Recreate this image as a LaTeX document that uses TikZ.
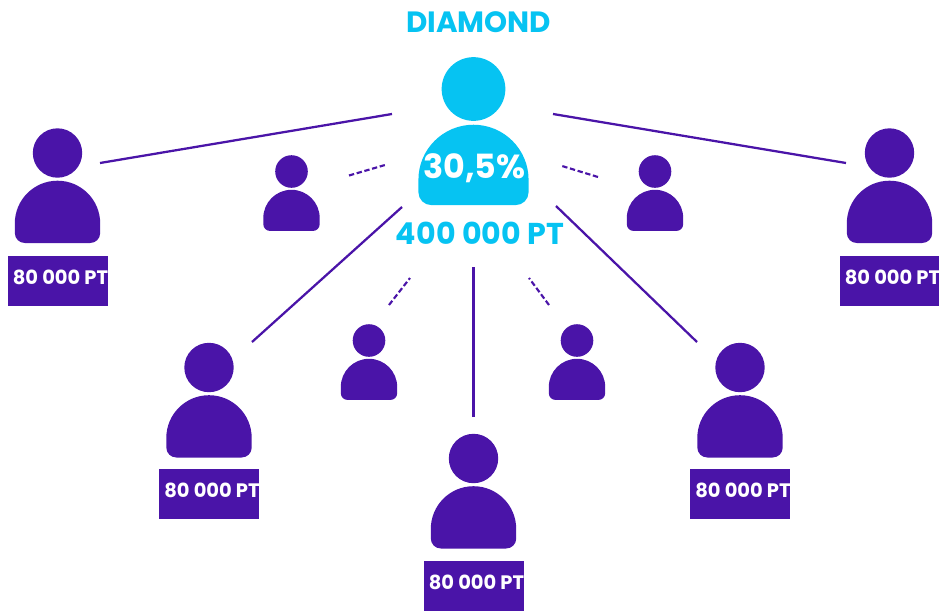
\documentclass[tikz,border=0pt]{standalone}
\usepackage{fontspec}
\setmainfont{Poppins}
\usetikzlibrary{positioning}
\definecolor{ink}{HTML}{4A14A8}
\definecolor{sky}{HTML}{06C3F2}
\tikzset{
  pics/person/.style={code={
    \fill (0,0) circle[radius=24.7];
    \fill (-42.7,-70.4) arc[start angle=180,end angle=0,radius=42.7] -- (42.7,-80)
      arc[start angle=0,end angle=-90,radius=10] -- (-32.7,-90)
      arc[start angle=270,end angle=180,radius=10] -- cycle;
  }},
  link/.style={draw=ink,line width=1.7pt},
  dashlink/.style={link,line width=1.6pt,dash pattern=on 4pt off 2pt},
  ptbox/.style={fill=ink,minimum width=75pt,minimum height=37.5pt,inner sep=0pt},
  pttext/.style={text=white,font=\bfseries\fontsize{14.6}{16}\selectfont,inner sep=0pt,anchor=west},
  skytext/.style={text=sky,font=\bfseries\fontsize{22}{26}\selectfont,inner sep=0pt}
}
\newcommand{\ptlabel}[3]{%
  \node[ptbox] (#1) at (#2,#3) {};
  \node[pttext,xshift=4pt,yshift=2.8pt] (#1text) at (#1.west) {80 000 PT};
}
\begin{document}
\begin{tikzpicture}[x=0.75pt,y=0.75pt]
  \useasboundingbox (0,-611) rectangle (939,0);

  % links
  \coordinate (la) at (100,-163);  \coordinate (lb) at (392,-114);
  \coordinate (ra) at (846,-163);  \coordinate (rb) at (553,-114);
  \coordinate (ca) at (252,-342);  \coordinate (cb) at (402,-207);
  \coordinate (da) at (697,-342);  \coordinate (db) at (556,-206);
  \coordinate (ea) at (473.5,-417);  \coordinate (eb) at (473.5,-267);
  \draw[link] (la) -- (lb);
  \draw[link] (ra) -- (rb);
  \draw[link] (ca) -- (cb);
  \draw[link] (da) -- (db);
  \draw[link] (ea) -- (eb);

  \coordinate (fa) at (349,-175.5);  \coordinate (fb) at (385,-165);
  \coordinate (ga) at (598,-177);  \coordinate (gb) at (562,-166);
  \coordinate (ha) at (389,-305);  \coordinate (hb) at (410,-278);
  \coordinate (ia) at (549,-305);  \coordinate (ib) at (529,-278);
  \draw[dashlink] (fa) -- (fb);
  \draw[dashlink] (ga) -- (gb);
  \draw[dashlink] (ha) -- (hb);
  \draw[dashlink] (ia) -- (ib);

  % people
  \pic[sky,scale=1.29] (top) at (473.5,-89) {person};
  \pic[ink] (pa) at (57.5,-153) {person};
  \pic[ink] (pb) at (209,-367.5) {person};
  \pic[ink] (pc) at (473.5,-458.5) {person};
  \pic[ink] (pd) at (740,-367.5) {person};
  \pic[ink] (pe) at (889.5,-153) {person};
  \pic[ink,scale=0.66] (sa) at (291.5,-171.5) {person};
  \pic[ink,scale=0.66] (sb) at (655,-171.5) {person};
  \pic[ink,scale=0.66] (sc) at (369,-340.5) {person};
  \pic[ink,scale=0.66] (sd) at (577,-340.5) {person};

  % texts
  \node[skytext] (title) at (478.5,-22) {DIAMOND};
  \node[skytext,font=\bfseries\fontsize{22.6}{26}\selectfont] (total) at (480,-233) {400 000 PT};
  \node[skytext,text=white,font=\bfseries\fontsize{25}{30}\selectfont] (share) at (474.5,-168) {30,5\%};

  \ptlabel{boxa}{57.5}{-280.7}
  \ptlabel{boxb}{209}{-494}
  \ptlabel{boxc}{473.5}{-586}
  \ptlabel{boxd}{740}{-494}
  \ptlabel{boxe}{889.5}{-280.7}
\end{tikzpicture}
\end{document}
